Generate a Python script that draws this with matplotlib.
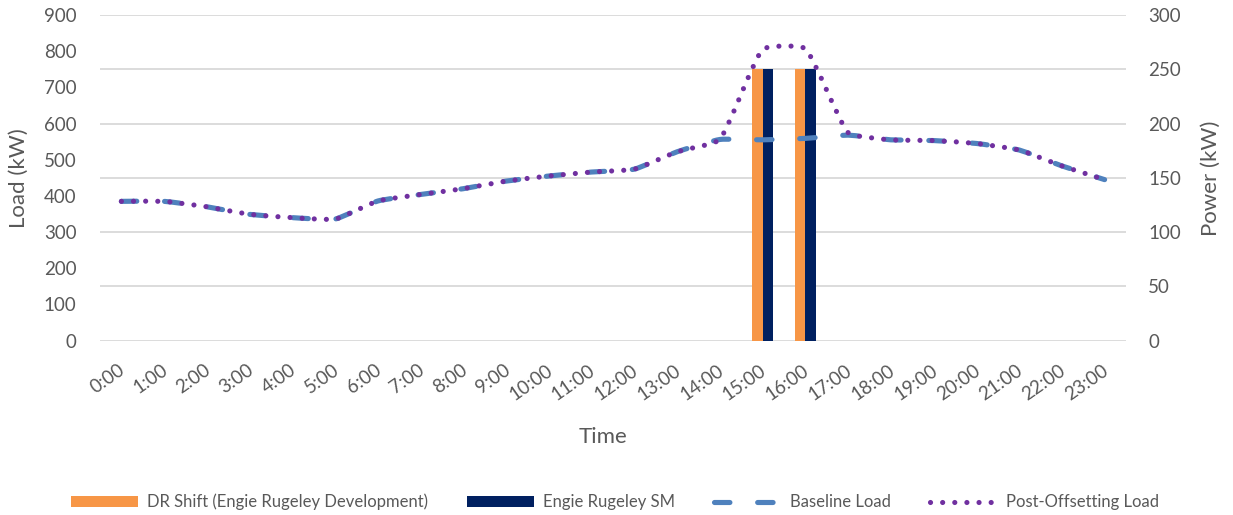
import numpy as np
import matplotlib
matplotlib.use("Agg")
import matplotlib.pyplot as plt
from matplotlib.path import Path
from matplotlib.patches import PathPatch, Patch
from matplotlib.lines import Line2D

# ---- data -------------------------------------------------------------
hours = [f"{h}:00" for h in range(24)]

baseline_load = [385, 385, 370, 349, 340, 336, 386, 404, 420, 441, 455, 466,
                 474, 522, 556, 555, 559, 568, 555, 553, 545, 527, 483, 445]

post_offsetting_load = [385, 385, 370, 349, 340, 336, 386, 404, 420, 441, 455, 466,
                        474, 522, 556, 805, 807, 575, 555, 553, 545, 527, 483, 445]

dr_shift_kw = [0] * 15 + [250, 250] + [0] * 7        # DR Shift (Engie Rugeley Development)
engie_sm_kw = [0] * 15 + [250, 250] + [0] * 7        # Engie Rugeley SM

# ---- style ------------------------------------------------------------
TEXT = "#595959"
GRID = "#d9d9d9"
ORANGE = "#F79646"
NAVY = "#002060"
BLUE = "#4F81BD"
PURPLE = "#7030A0"

plt.rcParams["font.family"] = ["Lato", "DejaVu Sans"]
plt.rcParams["text.color"] = TEXT


def smooth_path(ax, xs, ys, tension=0.15):
    """Smoothed line through every point, built from cubic Bezier segments.

    Control arms are computed in display space and scaled by the relative
    lengths of neighbouring segments, which keeps sharp steps from bulging.
    """
    pts = ax.transData.transform(np.column_stack([xs, ys]).astype(float))
    n = len(pts)
    verts = [pts[0]]
    codes = [Path.MOVETO]
    for i in range(n - 1):
        p0 = pts[max(i - 1, 0)]
        p1 = pts[i]
        p2 = pts[i + 1]
        p3 = pts[min(i + 2, n - 1)]
        d01 = np.hypot(*(p1 - p0))
        d12 = np.hypot(*(p2 - p1))
        d23 = np.hypot(*(p3 - p2))
        fb = tension * d12 / (d01 + d12) if d01 + d12 > 0 else 0.0
        fa = tension * d12 / (d12 + d23) if d12 + d23 > 0 else 0.0
        c1 = p1 + fb * (p2 - p0)
        c2 = p2 - fa * (p3 - p1)
        verts += [c1, c2, p2]
        codes += [Path.CURVE4] * 3
    verts = ax.transData.inverted().transform(np.array(verts))
    return Path(verts, codes)


fig = plt.figure(figsize=(12.33, 5.15), dpi=100)
ax = fig.add_axes([0.0811, 0.3385, 0.8321, 0.6324])
ax2 = ax.twinx()

# bars and gridlines live on the right-hand (power) axis, drawn underneath
ax.set_zorder(ax2.get_zorder() + 1)
ax.patch.set_visible(False)

# ---- axes limits & ticks ---------------------------------------------
x = np.arange(len(hours))
ax.set_xlim(-0.5, len(hours) - 0.5)
ax.set_ylim(0, 900)
ax.set_yticks(np.arange(0, 901, 100))
ax2.set_ylim(0, 300)
ax2.set_yticks(np.arange(0, 301, 50))

# ---- bars -------------------------------------------------------------
bw = 0.25
ax2.bar(x - bw, dr_shift_kw, width=bw, align="edge", color=ORANGE, zorder=2)
ax2.bar(x, engie_sm_kw, width=bw, align="edge", color=NAVY, zorder=2)

# ---- lines ------------------------------------------------------------
LW = 3.7
dash_style = (0, (3.0, 5.4))
dot_style = (0, (0.01, 2.35))

base_patch = PathPatch(smooth_path(ax, x, baseline_load), fill=False, edgecolor=BLUE,
                       linewidth=LW, linestyle=dash_style, capstyle="round",
                       joinstyle="round", zorder=3)
post_patch = PathPatch(smooth_path(ax, x, post_offsetting_load), fill=False,
                       edgecolor=PURPLE, linewidth=LW, linestyle=dot_style,
                       capstyle="round", joinstyle="round", zorder=4)
ax.add_patch(base_patch)
ax.add_patch(post_patch)

ax2.set_axisbelow(True)
ax2.yaxis.grid(True, color=GRID, linewidth=1.3)

for a in (ax, ax2):
    for s in a.spines.values():
        s.set_visible(False)

ax.tick_params(axis="y", length=0, pad=17, labelsize=13.5, labelcolor=TEXT)
ax2.tick_params(axis="y", length=0, pad=16, labelsize=13.5, labelcolor=TEXT)

ax.set_xticks(x - 0.07)
ax.set_xticklabels(hours, rotation=35, ha="right", va="top", rotation_mode="anchor")
ax.tick_params(axis="x", length=0, pad=15, labelsize=13.5, labelcolor=TEXT)

ax.set_xlabel("Time", fontsize=16, color=TEXT, va="center")
ax.xaxis.set_label_coords(0.49, -0.295)
ax.set_ylabel("Load (kW)", fontsize=16, color=TEXT, va="center")
ax.yaxis.set_label_coords(-0.079, 0.5)
ax2.set_ylabel("Power (kW)", fontsize=16, color=TEXT, va="center")
ax2.yaxis.set_label_coords(1.083, 0.5)

# ---- legend -----------------------------------------------------------
handles = [
    Patch(facecolor=ORANGE, edgecolor="none"),
    Patch(facecolor=NAVY, edgecolor="none"),
    Line2D([], [], color=BLUE, lw=LW, linestyle=dash_style, dash_capstyle="round"),
    Line2D([], [], color=PURPLE, lw=LW, linestyle=dot_style, dash_capstyle="round"),
]
labels = ["DR Shift (Engie Rugeley Development)", "Engie Rugeley SM",
          "Baseline Load", "Post-Offsetting Load"]
fig.legend(handles, labels, loc="center", bbox_to_anchor=(0.499, 0.025), ncol=4,
           frameon=False, fontsize=12, handlelength=4.0, handleheight=0.66,
           handletextpad=0.55, columnspacing=2.35, labelcolor=TEXT)

fig.savefig("out.png", dpi=100, facecolor="white")
